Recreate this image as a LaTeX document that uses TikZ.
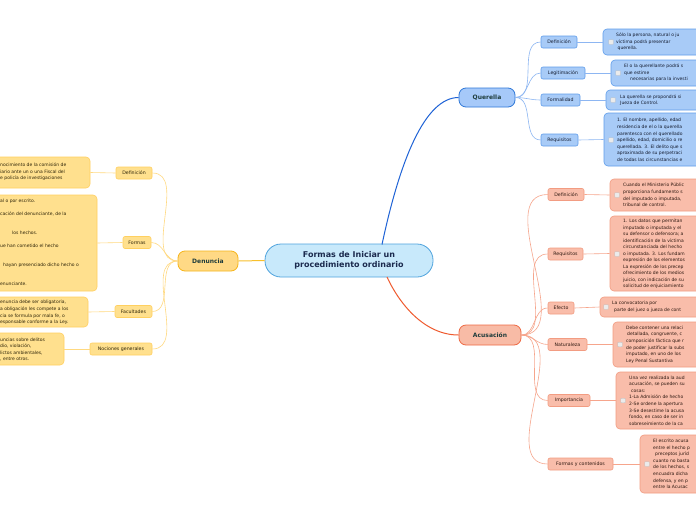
\documentclass[tikz,border=0pt]{standalone}
\usepackage{fontspec}
\setmainfont{DejaVu Sans}
\definecolor{cfl}{HTML}{C8E9FB}\definecolor{cbd}{HTML}{4FA3DD}\definecolor{ctx}{HTML}{1B2A4E}
\definecolor{qfl}{HTML}{A8CBF7}\definecolor{qbd}{HTML}{5F9DEB}\definecolor{qmain}{HTML}{1F63D6}\definecolor{qln}{HTML}{8DB6F2}\definecolor{qtx}{HTML}{141C30}
\definecolor{qmfl}{HTML}{A6C9F9}\definecolor{qmbd}{HTML}{2F78D8}
\definecolor{afl}{HTML}{F9BDAA}\definecolor{abd}{HTML}{F29C82}\definecolor{amain}{HTML}{EF5A2E}\definecolor{aln}{HTML}{F6A58C}\definecolor{atx}{HTML}{2E1810}
\definecolor{amfl}{HTML}{F8BBA6}\definecolor{ambd}{HTML}{EE6A44}
\definecolor{dfl}{HTML}{FFE08E}\definecolor{dbd}{HTML}{FFD060}\definecolor{dmain}{HTML}{F8C02C}\definecolor{dln}{HTML}{FFD980}\definecolor{dtx}{HTML}{2E2408}
\definecolor{dmfl}{HTML}{FFD985}\definecolor{dmbd}{HTML}{F6B51A}
\definecolor{mtx}{HTML}{1E3C3C}
\begin{document}
\begin{tikzpicture}[x=1pt,y=-1pt,
  lbl/.style={font=\fontsize{4.7}{5.6}\selectfont, rounded corners=2pt, inner sep=0pt, minimum height=12pt, line width=0.6pt},
  qc/.style={lbl, draw=qbd, fill=qfl, text=qtx},
  ac/.style={lbl, draw=abd, fill=afl, text=atx},
  dc/.style={lbl, draw=dbd, fill=dfl, text=dtx},
  leaf/.style={rounded corners=4pt, line width=0.6pt, inner sep=0pt},
  ql/.style={leaf, draw=qbd, fill=qfl},
  al/.style={leaf, draw=abd, fill=afl},
  dl/.style={leaf, draw=dbd, fill=dfl},
  ltxt/.style={font=\fontsize{4.5}{6.6}\selectfont, align=left, inner sep=0pt, anchor=west},
  chk/.style={draw=black!25, fill=black!8, minimum size=4.5pt, inner sep=0pt, rounded corners=0.5pt, line width=0.4pt},
  mainn/.style={font=\fontsize{6}{7}\selectfont\bfseries, text=mtx, rounded corners=7pt, inner sep=0pt, minimum height=19pt, line width=0.8pt},
  qlink/.style={draw=qln, line width=0.6pt},
  alink/.style={draw=aln, line width=0.6pt},
  dlink/.style={draw=dln, line width=0.6pt}]
\clip (0,0) rectangle (696,520);
\fill[white] (0,0) rectangle (696,520);

% central
\node[draw=cbd, fill=cfl, line width=0.8pt, rounded corners=16pt, minimum width=168pt, minimum height=33pt, inner sep=0pt,
  font=\fontsize{8}{10.5}\selectfont\bfseries, text=ctx, align=center] (c) at (349,260.5) {Formas de Iniciar un\\procedimiento ordinario};

% main branches
\node[mainn, draw=qmbd, fill=qmfl, minimum width=56pt] (q) at (487,97.5) {Querella};
\node[mainn, draw=ambd, fill=amfl, minimum width=62pt, minimum height=20pt] (a) at (490,335) {Acusación};
\node[mainn, draw=dmbd, fill=dmfl, minimum width=60pt, minimum height=20pt] (d) at (208,261) {Denuncia};

% Querella children
\node[qc, minimum width=36pt] (qd) at (559,42) {Definición};
\node[qc, minimum width=44pt] (qg) at (563,73) {Legitimación};
\node[qc, minimum width=39pt] (qf) at (560.5,100) {Formalidad};
\node[qc, minimum width=37pt] (qr) at (559.5,140) {Requisitos};

\node[ql, minimum width=157pt, minimum height=26pt] (qdl) at (681.5,42) {};
\node[ql, minimum width=149pt, minimum height=26pt] (qgl) at (685.5,73) {};
\node[ql, minimum width=154pt, minimum height=20pt] (qfl) at (683,100) {};
\node[ql, minimum width=156pt, minimum height=53pt] (qrl) at (682,139.5) {};
\node[chk] (qdc) at (611,42) {};
\node[chk] (qgc) at (618,73) {};
\node[chk] (qfc) at (613,100) {};
\node[chk] (qrc) at (611,140) {};
\node[ltxt, text=qtx] (qdt) at (616,42) {Sólo la persona, natural o ju\\víctima podrá presentar\\\hspace*{1.5pt}querella.};
\node[ltxt, text=qtx] (qgt) at (624,73) {El o la querellante podrá s\\que estime\\\hspace*{6pt}necesarias para la investi};
\node[ltxt, text=qtx] (qft) at (620,100) {La querella se propondrá si\\Jueza de Control.};
\node[ltxt, text=qtx] (qrt) at (617,140) {1. El nombre, apellido, edad\\residencia de el o la querella\\parentesco con el querellado\\apellido, edad, domicilio o re\\querellada. 3. El delito que s\\aproximada de su perpetraci\\de todas las circunstancias e};

% Acusacion children
\node[ac, minimum width=36pt] (ad) at (566,194.5) {Definición};
\node[ac, minimum width=35pt] (ar) at (565.5,254) {Requisitos};
\node[ac, minimum width=26pt] (ae) at (561,308) {Efecto};
\node[ac, minimum width=39pt] (an) at (567.5,344.5) {Naturaleza};
\node[ac, minimum width=42pt] (ai) at (569,400.5) {Importancia};
\node[ac, minimum width=65pt] (af) at (580.5,464) {Formas y contenidos};

\node[al, minimum width=150pt, minimum height=32pt] (adl) at (685,195) {};
\node[al, minimum width=150pt, minimum height=75pt] (arl) at (685,253.5) {};
\node[al, minimum width=160pt, minimum height=20pt] (ael) at (680,307) {};
\node[al, minimum width=147pt, minimum height=45pt] (anl) at (686.5,344.5) {};
\node[al, minimum width=144pt, minimum height=57pt] (ail) at (688,400.5) {};
\node[al, minimum width=120pt, minimum height=58pt] (afl) at (700,464) {};
\node[chk] (adc) at (617,195) {};
\node[chk] (arc) at (617,254) {};
\node[chk] (aec) at (606,307) {};
\node[chk] (anc) at (620,344.5) {};
\node[chk] (aic) at (623,400.5) {};
\node[chk] (afc) at (647,464) {};
\node[ltxt, text=atx] (adt) at (623,195) {Cuando el Ministerio Públic\\proporciona fundamento s\\del imputado o imputada,\\tribunal de control.};
\node[ltxt, text=atx, font=\fontsize{4.5}{6.5}\selectfont] (art) at (623,254) {1. Los datos que permitan\\imputado o imputada y el\\su defensor o defensora; a\\identificación de la víctima\\circunstanciada del hecho\\o imputada. 3. Los fundam\\expresión de los elementos\\La expresión de los precep\\ofrecimiento de los medios\\juicio, con indicación de su\\solicitud de enjuiciamiento};
\node[ltxt, text=atx] (aet) at (612,307) {La convocatoria por\\\hspace*{2pt}parte del juez o jueza de cont};
\node[ltxt, text=atx] (ant) at (626,344.5) {Debe contener una relaci\\\hspace*{1pt}detallada, congruente, c\\composición fáctica que r\\de poder justificar la subs\\imputado, en uno de los\\Ley Penal Sustantiva};
\node[ltxt, text=atx] (ait) at (629,400.5) {Una vez realizada la aud\\acusación, se pueden su\\\hspace*{2pt}cosas:\\1-La Admisión de hecho\\2-Se ordene la apertura\\3-Se desestime la acusa\\fondo, en caso de ser in\\sobreseimiento de la ca};
\node[ltxt, text=atx] (aft) at (653,464) {El escrito acusa\\entre el hecho p\\\hspace*{2pt}preceptos juríd\\cuanto no basta\\de los hechos, s\\encuadra dicha\\defensa, y en p\\entre la Acusac};

% Denuncia children
\node[dc, minimum width=36pt] (dd) at (134,173) {Definición};
\node[dc, minimum width=28pt] (df) at (137,242.5) {Formas};
\node[dc, minimum width=37pt] (dfa) at (133.5,311.5) {Facultades};
\node[dc, minimum width=62pt] (dn) at (121,349) {Nociones generales};

\node[dl, minimum width=150pt, minimum height=31pt] (ddl) at (15,172.5) {};
\node[dl, minimum width=157pt, minimum height=96pt] (dfl) at (18.5,243) {};
\node[dl, minimum width=148pt, minimum height=30pt] (dfal) at (14,312) {};
\node[dl, minimum width=124pt, minimum height=32pt] (dnl) at (2,349) {};
\node[ltxt, text=dtx] (ddt) at (0,172) {nocimiento de la comisión de\\iario ante un o una Fiscal del\\e policía de investigaciones};
\node[ltxt, text=dtx, font=\fontsize{4.5}{6.4}\selectfont] (dft) at (0,242.5) {al o por escrito.\\\mbox{}\\cación del denunciante, de la\\\mbox{}\\\mbox{}\\\hspace*{12pt}los hechos.\\\mbox{}\\ue han cometido el hecho\\\mbox{}\\\mbox{}\\\hspace*{3pt}hayan presenciado dicho hecho o\\\mbox{}\\\mbox{}\\enunciante.};
\node[ltxt, text=dtx] (dfat) at (0,312.5) {enuncia debe ser obligatoria,\\a obligación les compete a los\\cia se formula por mala fe, o\\esponsable conforme a la Ley.};
\node[ltxt, text=dtx] (dnt) at (0,349.5) {uncias sobre delitos\\dio, violación,\\lictos ambientales,\\, entre otros.};

% main connectors
\draw[qmain, line width=1pt] (382,244.5) .. controls (400,160) and (425,97.5) .. (q.west);
\draw[amain, line width=1pt] (387,277) .. controls (400,305) and (425,335) .. (a.west);
\draw[dmain, line width=1pt] (c.west) -- (d.east);

% child connectors
\foreach \n in {qd,qg,qf,qr} \draw[qlink] (q.east) to[out=0,in=180] (\n.west);
\foreach \n in {ad,ar,ae,an,ai,af} \draw[alink] (a.east) to[out=0,in=180] (\n.west);
\foreach \n in {dd,df,dfa,dn} \draw[dlink] (d.west) to[out=180,in=0] (\n.east);

% leaf connectors
\draw[qlink] (qd.east) -- (qdl.west);
\draw[qlink] (qg.east) -- (qgl.west);
\draw[qlink] (qf.east) -- (qfl.west);
\draw[qlink] (qr.east) -- (qrl.west);
\draw[alink] (ad.east) -- (adl.west);
\draw[alink] (ar.east) -- (arl.west);
\draw[alink] (ae.east) -- (ael.west);
\draw[alink] (an.east) -- (anl.west);
\draw[alink] (ai.east) -- (ail.west);
\draw[alink] (af.east) -- (afl.west);
\draw[dlink] (dd.west) -- (ddl.east);
\draw[dlink] (df.west) -- (dfl.east);
\draw[dlink] (dfa.west) -- (dfal.east);
\draw[dlink] (dn.west) -- (dnl.east);
\end{tikzpicture}
\end{document}
